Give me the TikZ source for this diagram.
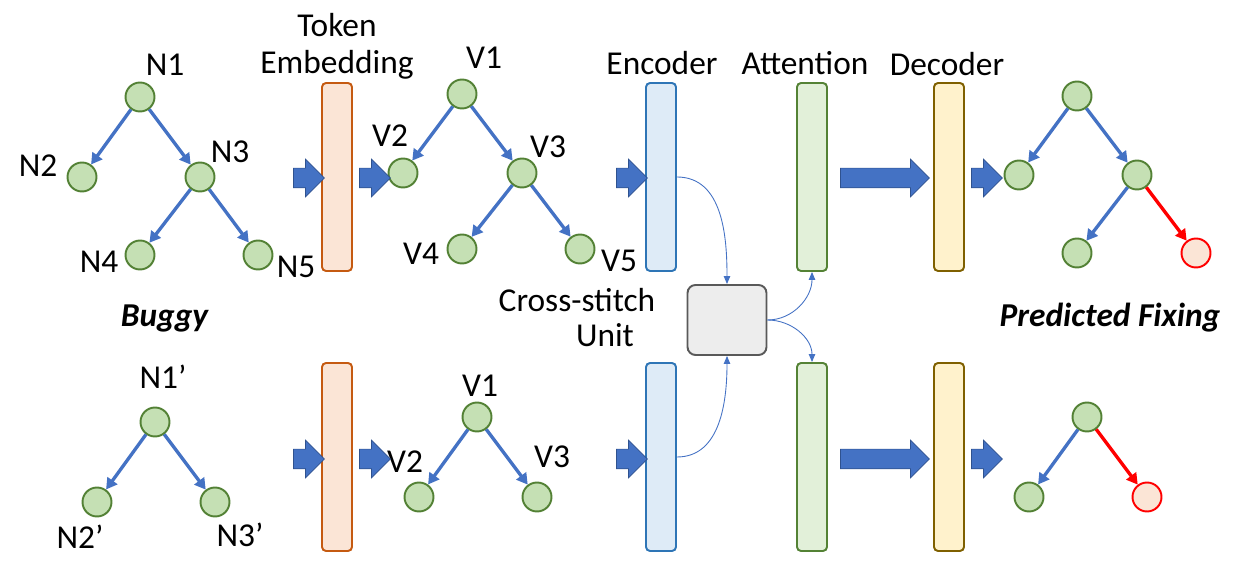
\documentclass[tikz,border=0pt]{standalone}
\usepackage{fontspec}
\setmainfont{Carlito}
\usepackage{tikz}
\usetikzlibrary{arrows.meta}
\usetikzlibrary{shapes.arrows}
\usepackage{xcolor}

\definecolor{nodefill}{HTML}{C5E0B4}
\definecolor{nodeline}{HTML}{538135}
\definecolor{edgeblue}{HTML}{4472C4}
\definecolor{arrline}{HTML}{2F528F}
\definecolor{embfill}{HTML}{FBE5D6}
\definecolor{embline}{HTML}{C55A11}
\definecolor{encfill}{HTML}{DEEBF7}
\definecolor{encline}{HTML}{2E75B6}
\definecolor{attfill}{HTML}{E2F0D9}
\definecolor{attline}{HTML}{548235}
\definecolor{decfill}{HTML}{FFF2CC}
\definecolor{decline}{HTML}{7F6000}
\definecolor{crossfill}{HTML}{EDEDED}
\definecolor{crossline}{HTML}{595959}

\tikzset{
  tnode/.style={circle,draw=nodeline,fill=nodefill,line width=1.1pt,minimum size=0.58cm,inner sep=0pt},
  fixnode/.style={tnode,draw=red,fill=embfill},
  tedge/.style={-{Triangle[length=0.22cm,width=0.24cm]},line width=1.9pt,draw=edgeblue},
  fixedge/.style={tedge,draw=red},
  layer/.style={rectangle,rounded corners=0.08cm,line width=1.1pt,minimum width=0.6cm,minimum height=3.76cm,inner sep=0pt},
  blockarr/.style={single arrow,fill=edgeblue,draw=arrline,line width=0.4pt,inner sep=0.19cm,single arrow head extend=0.18cm,minimum width=0.74cm,minimum height=0.62cm},
  thinarr/.style={-{Triangle[length=0.16cm,width=0.13cm]},draw=edgeblue,line width=0.5pt}
}

\begin{document}
\begin{tikzpicture}[x=0.02cm,y=-0.02cm,font=\fontsize{19}{21}\selectfont]
\useasboundingbox (0,0) rectangle (1237,573);

% buggy trees
\node [tnode] (n1) at (140,97) {};
\node [tnode] (n2) at (82,177) {};
\node [tnode] (n3) at (200,177) {};
\node [tnode] (n4) at (140,255) {};
\node [tnode] (n5) at (258,255) {};
\node [tnode] (m1) at (155,422) {};
\node [tnode] (m2) at (97,502) {};
\node [tnode] (m3) at (215,502) {};
\draw [tedge] (n1) -- (n2);
\draw [tedge] (n1) -- (n3);
\draw [tedge] (n3) -- (n4);
\draw [tedge] (n3) -- (n5);
\draw [tedge] (m1) -- (m2);
\draw [tedge] (m1) -- (m3);
\node (ln1) at (165,65) {N1};
\node (ln2) at (38,166) {N2};
\node (ln3) at (230,152) {N3};
\node (ln4) at (99,262) {N4};
\node (ln5) at (296,267) {N5};
\node (lm1) at (163,377) {N1’};
\node (lm2) at (80,537) {N2’};
\node (lm3) at (240,535) {N3’};
\node (lbuggy) at (165,318) {\textbf{\textit{Buggy}}};

% embedded trees
\node [tnode] (v1) at (462,94) {};
\node [tnode] (v2) at (403,173) {};
\node [tnode] (v3) at (522,173) {};
\node [tnode] (v4) at (462,249) {};
\node [tnode] (v5) at (580,249) {};
\node [tnode] (w1) at (477,417) {};
\node [tnode] (w2) at (419,497) {};
\node [tnode] (w3) at (537,497) {};
\draw [tedge] (v1) -- (v2);
\draw [tedge] (v1) -- (v3);
\draw [tedge] (v3) -- (v4);
\draw [tedge] (v3) -- (v5);
\draw [tedge] (w1) -- (w2);
\draw [tedge] (w1) -- (w3);
\node (lv1) at (484,58) {V1};
\node (lv2) at (390,136) {V2};
\node (lv3) at (548,147) {V3};
\node (lv4) at (421,254) {V4};
\node (lv5) at (619,261) {V5};
\node (lw1) at (480,386) {V1};
\node (lw2) at (405,462) {V2};
\node (lw3) at (552,457) {V3};

% predicted trees
\node [tnode] (p1) at (1077,96) {};
\node [tnode] (p2) at (1019,175) {};
\node [tnode] (p3) at (1137,175) {};
\node [tnode] (p4) at (1077,253) {};
\node [fixnode] (p5) at (1196,253) {};
\node [tnode] (q1) at (1087,417) {};
\node [tnode] (q2) at (1029,497) {};
\node [fixnode] (q3) at (1147,497) {};
\draw [tedge] (p1) -- (p2);
\draw [tedge] (p1) -- (p3);
\draw [tedge] (p3) -- (p4);
\draw [fixedge] (p3) -- (p5);
\draw [tedge] (q1) -- (q2);
\draw [fixedge] (q1) -- (q3);
\node (lfix) at (1110,318) {\textbf{\textit{Predicted Fixing}}};

% layers
\node [layer,draw=embline,fill=embfill] (emb1) at (337,177) {};
\node [layer,draw=embline,fill=embfill] (emb2) at (337,457) {};
\node [layer,draw=encline,fill=encfill] (enc1) at (661,177) {};
\node [layer,draw=encline,fill=encfill] (enc2) at (661,457) {};
\node [layer,draw=attline,fill=attfill] (att1) at (812,177) {};
\node [layer,draw=attline,fill=attfill] (att2) at (812,457) {};
\node [layer,draw=decline,fill=decfill] (dec1) at (949,177) {};
\node [layer,draw=decline,fill=decfill] (dec2) at (949,457) {};
\node (lemb) at (337,46) [align=center] {Token\\Embedding};
\node (lenc) at (662,63) {Encoder};
\node (latt) at (805,63) {Attention};
\node (ldec) at (947,64) {Decoder};

% block arrows
\node [blockarr] (a1) at (304,178) {};
\node [blockarr] (a2) at (370,178) {};
\node [blockarr] (a3) at (627,178) {};
\node [blockarr,minimum height=1.78cm] (a4) at (880,178) {};
\node [blockarr] (a5) at (982,178) {};
\node [blockarr] (b1) at (304,459) {};
\node [blockarr] (b2) at (370,459) {};
\node [blockarr] (b3) at (627,459) {};
\node [blockarr,minimum height=1.78cm] (b4) at (880,459) {};
\node [blockarr] (b5) at (982,459) {};

% cross-stitch
\node [rectangle,rounded corners=0.16cm,draw=crossline,fill=crossfill,line width=1.1pt,minimum width=1.58cm,minimum height=1.4cm] (cross) at (727,320) {};
\node (lcross) at (577,300) {Cross-stitch};
\node (lunit) at (605,335) {Unit};
\draw [thinarr] (enc1.east) to[out=0,in=90] (cross.north);
\draw [thinarr] (enc2.east) to[out=0,in=-90] (cross.south);
\draw [thinarr] (cross.east) to[out=0,in=-90] (att1.south);
\draw [thinarr] (cross.east) to[out=0,in=90] (att2.north);
\end{tikzpicture}
\end{document}
